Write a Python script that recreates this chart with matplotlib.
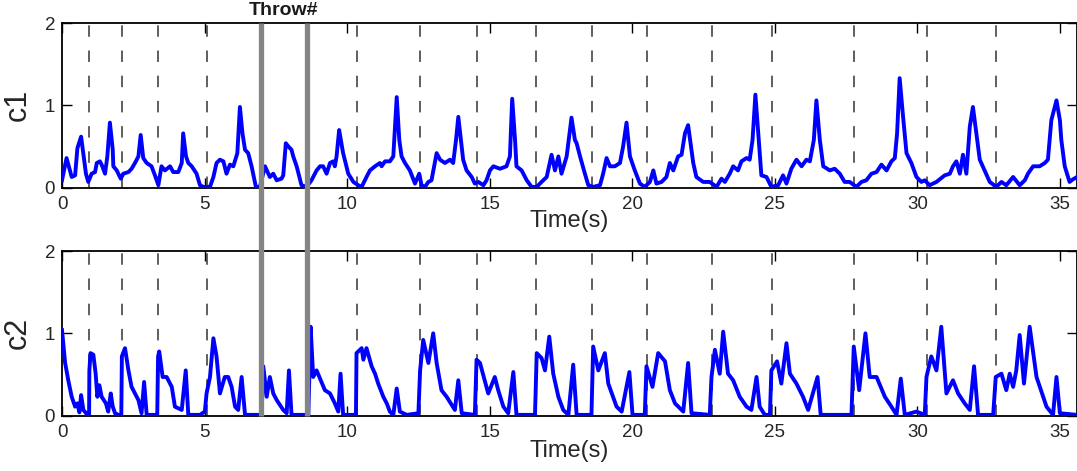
import matplotlib
matplotlib.use("Agg")
import matplotlib.pyplot as plt
from matplotlib.lines import Line2D
from matplotlib.transforms import blended_transform_factory

plt.rcParams['font.family'] = ['Liberation Sans', 'DejaVu Sans']

# ---- data ----
c1_t = [0.00, 0.16, 0.34, 0.46, 0.54, 0.67, 0.84, 0.92, 1.04, 1.16, 1.22, 1.33, 1.39, 1.51, 1.59, 1.68,
        1.78, 1.80, 1.92, 2.06, 2.15, 2.33, 2.44, 2.56, 2.68, 2.76, 2.85, 2.97, 3.14, 3.26, 3.38, 3.49,
        3.61, 3.79, 3.90, 4.08, 4.20, 4.25, 4.35, 4.43, 4.55, 4.72, 4.84, 4.96, 5.19, 5.31, 5.42, 5.54,
        5.66, 5.77, 5.89, 6.01, 6.15, 6.24, 6.33, 6.42, 6.53, 6.65, 6.80, 6.94, 7.12, 7.29, 7.41, 7.53,
        7.70, 7.76, 7.85, 7.94, 8.05, 8.11, 8.23, 8.40, 8.58, 8.75, 8.93, 9.05, 9.16, 9.28, 9.40, 9.51,
        9.57, 9.63, 9.72, 9.86, 10.04, 10.22, 10.39, 10.51, 10.68, 10.80, 10.98, 11.15, 11.21, 11.33,
        11.50, 11.62, 11.74, 11.83, 11.91, 12.03, 12.20, 12.38, 12.53, 12.61, 12.73, 12.85, 12.96, 13.14,
        13.26, 13.43, 13.61, 13.72, 13.82, 13.90, 14.02, 14.07, 14.19, 14.37, 14.48, 14.60, 14.78, 14.89,
        15.01, 15.13, 15.36, 15.59, 15.71, 15.79, 15.89, 15.94, 16.12, 16.30, 16.47, 16.65, 16.82, 17.00,
        17.17, 17.29, 17.41, 17.52, 17.70, 17.87, 17.99, 18.05, 18.17, 18.34, 18.46, 18.63, 18.87, 18.98,
        19.10, 19.22, 19.39, 19.57, 19.68, 19.80, 19.92, 20.09, 20.27, 20.44, 20.62, 20.74, 20.85, 21.03,
        21.20, 21.32, 21.44, 21.61, 21.73, 21.85, 21.96, 22.14, 22.25, 22.49, 22.72, 22.96, 23.13, 23.25,
        23.42, 23.54, 23.71, 23.83, 24.01, 24.12, 24.22, 24.32, 24.42, 24.53, 24.71, 24.88, 25.12, 25.29,
        25.41, 25.58, 25.76, 25.94, 26.11, 26.23, 26.37, 26.46, 26.58, 26.70, 26.93, 27.10, 27.28, 27.45,
        27.63, 27.86, 28.04, 28.21, 28.39, 28.57, 28.74, 28.92, 29.09, 29.21, 29.29, 29.38, 29.50, 29.62,
        29.79, 29.97, 30.14, 30.26, 30.43, 30.67, 30.96, 31.14, 31.25, 31.37, 31.49, 31.60, 31.72, 31.84,
        31.95, 32.07, 32.19, 32.36, 32.54, 32.77, 32.95, 33.12, 33.36, 33.59, 33.77, 33.88, 34.06, 34.29,
        34.47, 34.58, 34.70, 34.88, 35.00, 35.05, 35.17, 35.34, 35.45, 35.60]
c1_v = [0.09, 0.36, 0.13, 0.15, 0.48, 0.62, 0.17, 0.07, 0.17, 0.19, 0.30, 0.32, 0.28, 0.17, 0.38, 0.79,
        0.46, 0.26, 0.21, 0.11, 0.17, 0.19, 0.23, 0.30, 0.38, 0.64, 0.36, 0.30, 0.26, 0.15, 0.03, 0.26,
        0.21, 0.26, 0.19, 0.19, 0.30, 0.66, 0.38, 0.30, 0.26, 0.17, 0.03, 0.01, 0.01, 0.13, 0.30, 0.34,
        0.32, 0.17, 0.28, 0.26, 0.42, 0.98, 0.66, 0.46, 0.42, 0.26, 0.01, 0.01, 0.26, 0.13, 0.17, 0.09,
        0.11, 0.15, 0.54, 0.50, 0.46, 0.38, 0.26, 0.03, 0.01, 0.09, 0.21, 0.26, 0.26, 0.17, 0.30, 0.32,
        0.26, 0.38, 0.70, 0.42, 0.17, 0.07, 0.03, 0.01, 0.13, 0.21, 0.26, 0.30, 0.26, 0.32,
        0.32, 0.38, 1.10, 0.58, 0.38, 0.30, 0.21, 0.05, 0.17, 0.03, 0.01, 0.07, 0.09, 0.42,
        0.34, 0.30, 0.34, 0.30, 0.58, 0.86, 0.50, 0.34, 0.21, 0.13, 0.05, 0.07, 0.03, 0.09,
        0.21, 0.26, 0.23, 0.26, 0.38, 1.08, 0.58, 0.26, 0.21, 0.09, 0.01, 0.01, 0.07, 0.13,
        0.40, 0.21, 0.38, 0.17, 0.38, 0.85, 0.58, 0.54, 0.38, 0.17, 0.03, 0.01, 0.03, 0.17,
        0.36, 0.26, 0.26, 0.30, 0.50, 0.79, 0.38, 0.21, 0.05, 0.01, 0.07, 0.21, 0.05, 0.07,
        0.13, 0.30, 0.21, 0.38, 0.40, 0.66, 0.76, 0.30, 0.13, 0.07, 0.07, 0.01, 0.11, 0.07,
        0.17, 0.26, 0.21, 0.32, 0.36, 0.34, 0.58, 1.13, 0.66, 0.15, 0.13, 0.01, 0.03, 0.15,
        0.05, 0.23, 0.34, 0.26, 0.34, 0.32, 0.58, 1.06, 0.58, 0.26, 0.21, 0.23, 0.17, 0.07,
        0.07, 0.01, 0.07, 0.09, 0.17, 0.19, 0.28, 0.21, 0.32, 0.36, 0.66, 1.33, 0.86, 0.42,
        0.30, 0.13, 0.07, 0.09, 0.03, 0.07, 0.15, 0.17, 0.26, 0.32, 0.17, 0.40, 0.17, 0.74,
        0.98, 0.66, 0.34, 0.21, 0.07, 0.01, 0.07, 0.03, 0.13, 0.03, 0.09, 0.17, 0.26, 0.26,
        0.30, 0.34, 0.82, 1.06, 0.82, 0.58, 0.26, 0.07, 0.10, 0.13]

c2_t = [0.00, 0.11, 0.22, 0.34, 0.46, 0.54, 0.61, 0.67, 0.75, 0.89, 0.95, 0.96, 1.00, 1.10, 1.18, 1.24,
        1.31, 1.39, 1.54, 1.62, 1.71, 1.78, 1.86, 1.98, 2.08, 2.10, 2.21, 2.33, 2.44, 2.56, 2.68, 2.79,
        2.88, 2.97, 3.34, 3.37, 3.41, 3.53, 3.67, 3.85, 3.96, 4.20, 4.34, 4.43, 4.84, 5.01, 5.07, 5.19,
        5.31, 5.42, 5.54, 5.71, 5.83, 5.95, 6.07, 6.18, 6.30, 6.42, 6.80, 7.00, 7.06, 7.18, 7.29, 7.41,
        7.53, 7.76, 7.88, 7.96, 8.05, 8.64, 8.72, 8.81, 8.93, 9.05, 9.22, 9.40, 9.57, 9.69, 9.77, 9.86,
        10.31, 10.33, 10.51, 10.57, 10.68, 10.86, 10.98, 11.09, 11.27, 11.39, 11.50, 11.62, 11.74, 11.85,
        12.09, 12.50, 12.56, 12.67, 12.85, 13.02, 13.14, 13.31, 13.49, 13.67, 13.78, 13.90, 14.02, 14.48,
        14.54, 14.66, 14.95, 15.18, 15.30, 15.48, 15.65, 15.83, 15.94, 16.59, 16.65, 16.82, 16.94, 17.09,
        17.23, 17.41, 17.58, 17.76, 17.93, 18.05, 18.57, 18.63, 18.81, 19.04, 19.16, 19.45, 19.63, 19.90,
        20.01, 20.44, 20.50, 20.71, 20.91, 21.15, 21.32, 21.50, 21.79, 21.96, 22.08, 22.72, 22.78, 22.90,
        23.07, 23.19, 23.36, 23.54, 23.77, 24.01, 24.18, 24.36, 24.47, 24.65, 24.83, 24.88, 25.08, 25.23,
        25.41, 25.53, 25.76, 25.99, 26.17, 26.50, 26.61, 27.69, 27.77, 27.96, 28.18, 28.33, 28.57, 28.86,
        29.09, 29.27, 29.42, 29.56, 29.97, 30.26, 30.32, 30.49, 30.67, 30.84, 31.02, 31.25, 31.43, 31.66,
        31.84, 31.99, 32.13, 32.66, 32.75, 32.95, 33.12, 33.24, 33.36, 33.47, 33.59, 33.74, 33.94, 34.18,
        34.53, 34.76, 34.88, 35.00, 35.60]
c2_v = [1.04, 0.64, 0.43, 0.23, 0.11, 0.15, 0.04, 0.25, 0.07, 0.01, 0.01, 0.55, 0.76, 0.74, 0.51, 0.23,
        0.37, 0.23, 0.15, 0.05, 0.27, 0.11, 0.03, 0.01, 0.01, 0.72, 0.82, 0.55, 0.35, 0.27, 0.19, 0.03,
        0.41, 0.01, 0.01, 0.72, 0.78, 0.47, 0.47, 0.35, 0.11, 0.07, 0.55, 0.01, 0.01, 0.05, 0.27, 0.47,
        0.94, 0.72, 0.27, 0.47, 0.47, 0.35, 0.11, 0.07, 0.47, 0.01, 0.01, 0.01, 0.60, 0.23, 0.47, 0.27,
        0.19, 0.07, 0.03, 0.55, 0.01, 0.01, 1.08, 0.47, 0.55, 0.45, 0.31, 0.27, 0.15, 0.05, 0.51, 0.01,
        0.01, 0.76, 0.82, 0.68, 0.82, 0.60, 0.51, 0.39, 0.23, 0.15, 0.05, 0.01, 0.33, 0.05,
        0.01, 0.03, 0.55, 0.92, 0.64, 1.00, 0.64, 0.31, 0.23, 0.13, 0.07, 0.43, 0.03, 0.01,
        0.68, 0.64, 0.27, 0.47, 0.31, 0.11, 0.03, 0.53, 0.01, 0.01, 0.76, 0.70, 0.55, 0.96,
        0.51, 0.23, 0.07, 0.01, 0.62, 0.01, 0.01, 0.84, 0.55, 0.76, 0.39, 0.11, 0.05, 0.53,
        0.01, 0.01, 0.60, 0.35, 0.76, 0.66, 0.31, 0.15, 0.05, 0.64, 0.03, 0.01, 0.47, 0.80,
        0.51, 1.02, 0.51, 0.43, 0.23, 0.11, 0.07, 0.47, 0.11, 0.01, 0.01, 0.55, 0.66, 0.39,
        0.88, 0.51, 0.39, 0.23, 0.07, 0.47, 0.01, 0.01, 0.84, 0.31, 1.00, 0.47, 0.47, 0.23,
        0.11, 0.01, 0.45, 0.01, 0.05, 0.01, 0.47, 0.72, 0.55, 1.08, 0.27, 0.43, 0.27, 0.15,
        0.07, 0.60, 0.01, 0.01, 0.47, 0.51, 0.31, 0.51, 0.35, 0.55, 0.98, 0.39, 1.08, 0.47,
        0.11, 0.01, 0.47, 0.03, 0.01]

phase_marks = [0.96, 2.09, 3.37, 5.08, 10.34, 12.56, 14.55, 16.63, 18.58, 20.51,
               22.80, 24.90, 27.77, 30.34, 32.77]
throw_marks = [6.97, 8.58]
x_ticks = [0, 5, 10, 15, 20, 25, 30, 35]
y_ticks = [0, 1, 2]
panel_labels = ['c1', 'c2']

# ---- figure ----
W, H = 1077, 471
fig = plt.figure(figsize=(W / 100, H / 100), dpi=100)

left = 62 / W
width = (1077 - 62) / W
ax1 = fig.add_axes([left, 1 - 187.7 / H, width, 164.7 / H])
ax2 = fig.add_axes([left, 1 - 415.7 / H, width, 164.7 / H])

tick_col = '#262626'
for ax, t, v, lab, xl_y in [(ax1, c1_t, c1_v, panel_labels[0], -0.236),
                            (ax2, c2_t, c2_v, panel_labels[1], -0.249)]:
    for xm in phase_marks:
        ax.axvline(xm, color='#333333', lw=1.1, dashes=(7.5, 9), zorder=1)
    ax.plot(t, v, color='#0000ff', lw=2.8, solid_joinstyle='round', zorder=3)
    ax.set_xlim(0, 35.6)
    ax.set_ylim(0, 2)
    ax.set_xticks(x_ticks)
    ax.set_yticks(y_ticks)
    ax.tick_params(direction='in', length=7, width=1.0, top=True, right=True,
                   labelsize=13.5, colors='black', labelcolor=tick_col)
    ax.tick_params(axis='x', pad=6)
    ax.tick_params(axis='y', pad=5)
    for s in ax.spines.values():
        s.set_linewidth(1.3)
        s.set_color('black')
    ax.text(-0.0435, 0.5, lab, rotation=90, transform=ax.transAxes,
            ha='center', va='center', fontsize=22, color=tick_col)
    ax.text(0.5, xl_y, 'Time(s)', transform=ax.transAxes, ha='center',
            va='baseline', fontsize=17, color=tick_col)

# thick gray throw markers spanning both panels
trans = blended_transform_factory(ax1.transData, fig.transFigure)
y_bot = 1 - 415.7 / H
y_top = 1 - 23 / H
for xm in throw_marks:
    fig.add_artist(Line2D([xm, xm], [y_bot, y_top], transform=trans,
                          color='#858585', lw=3.8, zorder=5, solid_capstyle='butt'))

ttrans = blended_transform_factory(ax1.transData, ax1.transAxes)
ax1.text(sum(throw_marks) / 2, 1.0486, 'Throw#', transform=ttrans, ha='center',
         va='baseline', fontsize=14, fontweight='bold', color='#1a1a1a')

fig.savefig('out.png', dpi=100)
